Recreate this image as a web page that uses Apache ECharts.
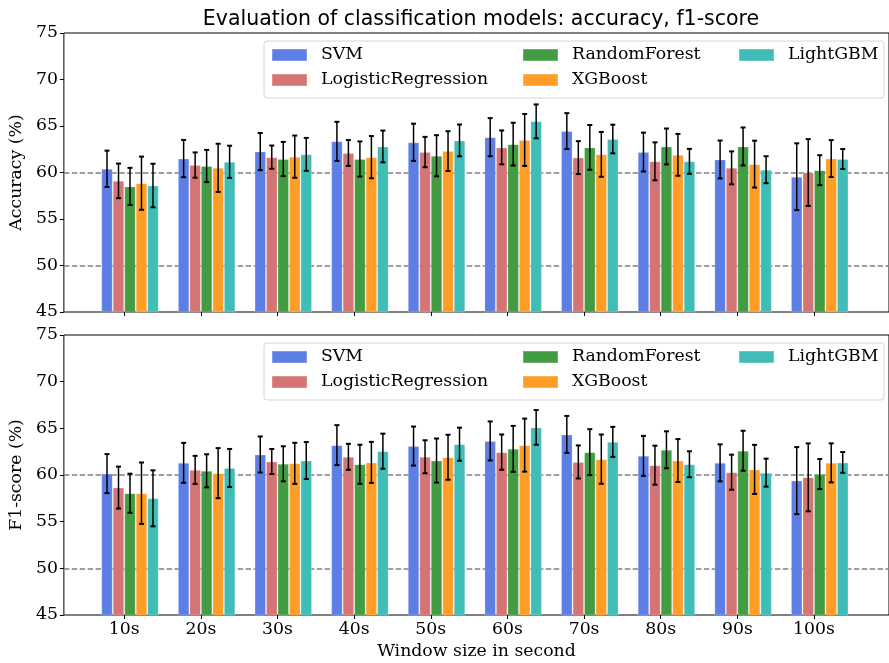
<!DOCTYPE html>
<html><head><meta charset="utf-8">
<script src="https://cdn.jsdelivr.net/npm/echarts@6/dist/echarts.min.js"></script>
<style>html,body{margin:0;padding:0;background:#fff}#c{width:889px;height:663px}</style>
</head><body><div id="c"></div>
<script>
const categories = ['10s','20s','30s','40s','50s','60s','70s','80s','90s','100s'];
const models = ['SVM','LogisticRegression','RandomForest','XGBoost','LightGBM'];
const yTicks = [45, 50, 55, 60, 65, 70, 75];
const refLines = [50, 60];

// Accuracy (%) means and error half-widths
const accSVM   = [60.4, 61.5, 62.25, 63.35, 63.25, 63.8, 64.45, 62.2, 61.4, 59.55];
const accSVMErr = [1.95, 2.0, 2.0, 2.1, 2.0, 2.05, 1.93, 2.09, 2.04, 3.59];
const accLR    = [59.1, 60.8, 61.65, 62.1, 62.2, 62.7, 61.6, 61.2, 60.5, 60.0];
const accLRErr = [1.86, 1.36, 1.25, 1.39, 1.63, 1.82, 1.77, 2.04, 1.77, 3.59];
const accRF    = [58.5, 60.7, 61.45, 61.45, 61.8, 63.05, 62.7, 62.8, 62.8, 60.25];
const accRFErr = [2.0, 1.73, 1.84, 1.89, 2.21, 2.3, 2.41, 1.93, 2.04, 1.61];
const accXGB   = [58.85, 60.5, 61.7, 61.65, 62.3, 63.5, 61.95, 61.9, 60.9, 61.5];
const accXGBErr = [2.86, 2.59, 2.27, 2.27, 2.14, 2.79, 2.41, 2.25, 2.52, 1.98];
const accLGBM  = [58.6, 61.15, 61.95, 62.8, 63.45, 65.5, 63.6, 61.2, 60.3, 61.45];
const accLGBMErr = [2.34, 1.73, 1.77, 1.71, 1.71, 1.82, 1.54, 1.34, 1.45, 1.07];

// F1-score (%) means and error half-widths
const f1SVM   = [60.15, 61.3, 62.2, 63.2, 63.1, 63.65, 64.35, 62.05, 61.3, 59.4];
const f1SVMErr = [2.09, 2.14, 1.93, 2.14, 2.09, 2.09, 1.98, 2.14, 1.98, 3.59];
const f1LR    = [58.65, 60.55, 61.45, 61.95, 61.95, 62.45, 61.4, 61.05, 60.3, 59.75];
const f1LRErr = [2.25, 1.5, 1.34, 1.39, 1.77, 1.89, 1.77, 2.09, 1.88, 3.64];
const f1RF    = [58.05, 60.45, 61.2, 61.15, 61.55, 62.8, 62.45, 62.7, 62.6, 60.1];
const f1RFErr = [2.09, 1.77, 1.88, 2.09, 2.36, 2.46, 2.46, 1.98, 2.14, 1.61];
const f1XGB   = [58.05, 60.2, 61.25, 61.35, 61.9, 63.2, 61.7, 61.55, 60.6, 61.3];
const f1XGBErr = [3.29, 2.68, 2.2, 2.2, 2.41, 2.84, 2.64, 2.3, 2.63, 2.09];
const f1LGBM  = [57.5, 60.75, 61.55, 62.55, 63.3, 65.1, 63.55, 61.15, 60.25, 61.35];
const f1LGBMErr = [3.0, 2.04, 1.98, 1.88, 1.77, 1.86, 1.61, 1.39, 1.5, 1.11];

const accMeans = [accSVM, accLR, accRF, accXGB, accLGBM];
const accErrs = [accSVMErr, accLRErr, accRFErr, accXGBErr, accLGBMErr];
const f1Means = [f1SVM, f1LR, f1RF, f1XGB, f1LGBM];
const f1Errs = [f1SVMErr, f1LRErr, f1RFErr, f1XGBErr, f1LGBMErr];

const colors = ['#5D7FE5', '#D47474', '#439C43', '#FF9D26', '#41BDB7'];
const FONT = 'DejaVu Serif';
const FS = 17.3;
const BAR_FRAC = 0.15;
// ticks sit half a bar left of each group centre (between 2nd and 3rd bars)
const TICK_SHIFT = BAR_FRAC / 2;
const tickVals = categories.map((c, i) => i - TICK_SHIFT);

const chart = echarts.init(document.getElementById('c'), null, {renderer: 'canvas'});

function xAxisFor(gi, showLabels) {
  return {
    type: 'value', gridIndex: gi, min: -0.8625, max: 9.904,
    axisLine: {show: false, onZero: false},
    splitLine: {show: false},
    axisTick: {show: true, customValues: tickVals, length: 4, lineStyle: {color: '#000', width: 1}},
    axisLabel: {show: showLabels, customValues: tickVals,
      formatter: v => categories[Math.round(v + TICK_SHIFT)] || '',
      fontFamily: FONT, fontSize: FS, color: '#000', margin: 6},
    name: showLabels ? 'Window size in second' : '',
    nameLocation: 'middle', nameGap: 28,
    nameTextStyle: {fontFamily: FONT, fontSize: FS, color: '#000'}
  };
}
function yAxisFor(gi, name) {
  return {
    type: 'value', gridIndex: gi, min: 45, max: 75, interval: 5,
    axisLine: {show: false, onZero: false},
    splitLine: {show: false},
    axisTick: {show: true, length: 4, lineStyle: {color: '#000', width: 1}},
    axisLabel: {fontFamily: FONT, fontSize: FS, color: '#000', margin: 6},
    name: name, nameLocation: 'middle', nameGap: 36,
    nameTextStyle: {fontFamily: FONT, fontSize: FS, color: '#000'}
  };
}

const series = [];
function addPanel(gi, means, errs) {
  models.forEach((m, k) => {
    const s = {
      type: 'bar', name: m, xAxisIndex: gi, yAxisIndex: gi,
      barGap: '0%', barCategoryGap: '25%',
      itemStyle: {color: colors[k], borderColor: 'rgba(255,255,255,0.22)', borderWidth: 1},
      data: means[k].map((v, i) => [i, v]),
      z: 2, silent: true
    };
    if (k === 0) {
      s.markLine = {
        silent: true, symbol: 'none', label: {show: false},
        lineStyle: {color: '#808080', type: [5.5, 2.4], width: 1.5},
        data: refLines.map(v => ({yAxis: v})), z: 1
      };
    }
    series.push(s);
  });
  models.forEach((m, k) => {
    series.push({
      type: 'custom', name: 'err-' + m, xAxisIndex: gi, yAxisIndex: gi, z: 5, silent: true,
      data: means[k].map((v, i) => [i, v, errs[k][i]]),
      renderItem: function (params, api) {
        const i = api.value(0), v = api.value(1), e = api.value(2);
        const c0 = api.coord([i, v]);
        const c1 = api.coord([i + 1, v]);
        const bw = (c1[0] - c0[0]) * BAR_FRAC;
        const x = c0[0] + (k - 2) * bw;
        const yTop = api.coord([i, v + e])[1];
        const yBot = api.coord([i, v - e])[1];
        const cap = 2.5;
        const st = {stroke: '#000', lineWidth: 1.5};
        const stc = {stroke: '#000', lineWidth: 2};
        return {type: 'group', children: [
          {type: 'line', shape: {x1: x, y1: yTop, x2: x, y2: yBot}, style: st},
          {type: 'line', shape: {x1: x - cap, y1: yTop, x2: x + cap, y2: yTop}, style: stc},
          {type: 'line', shape: {x1: x - cap, y1: yBot, x2: x + cap, y2: yBot}, style: stc}
        ]};
      }
    });
  });
}
addPanel(0, accMeans, accErrs);
addPanel(1, f1Means, f1Errs);

function legendsFor(top) {
  const base = {
    orient: 'vertical', icon: 'rect', itemWidth: 35, itemHeight: 12, itemGap: 7,
    textStyle: {fontFamily: FONT, fontSize: FS, lineHeight: 18, color: '#000', padding: [0, 0, 0, 9]},
    padding: 0, selectedMode: false, z: 10
  };
  return [
    Object.assign({}, base, {data: ['SVM', 'LogisticRegression'], left: 271, top: top}),
    Object.assign({}, base, {data: ['RandomForest', 'XGBoost'], left: 522, top: top}),
    Object.assign({}, base, {data: ['LightGBM'], left: 738, top: top})
  ];
}

const option = {
  backgroundColor: '#fff',
  animation: false,
  color: colors,
  title: {
    text: 'Evaluation of classification models: accuracy, f1-score',
    left: 476, top: 4, textAlign: 'center',
    textStyle: {fontFamily: 'DejaVu Sans', fontSize: 20.5, fontWeight: 'normal', color: '#000'}
  },
  grid: [
    {left: 62, top: 33, width: 829, height: 279, show: true, borderColor: '#000', borderWidth: 1, backgroundColor: 'transparent'},
    {left: 62, top: 335, width: 829, height: 280, show: true, borderColor: '#000', borderWidth: 1, backgroundColor: 'transparent'}
  ],
  xAxis: [xAxisFor(0, false), xAxisFor(1, true)],
  yAxis: [yAxisFor(0, 'Accuracy (%)'), yAxisFor(1, 'F1-score (%)')],
  legend: legendsFor(46).concat(legendsFor(348)),
  graphic: [
    {type: 'rect', shape: {x: 264, y: 41, width: 620, height: 57, r: 3}, style: {fill: 'rgba(255,255,255,0.8)', stroke: '#d6d6d6', lineWidth: 1}, z: 8, silent: true},
    {type: 'rect', shape: {x: 264, y: 343, width: 620, height: 57, r: 3}, style: {fill: 'rgba(255,255,255,0.8)', stroke: '#d6d6d6', lineWidth: 1}, z: 8, silent: true}
  ],
  series: series
};
chart.setOption(option);
</script>
</body></html>
